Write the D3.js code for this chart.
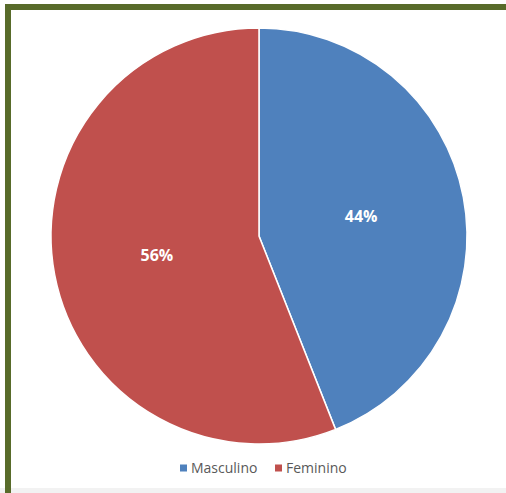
<!DOCTYPE html>
<meta charset="utf-8">
<script src="https://d3js.org/d3.v7.min.js"></script>
<style>
  body { margin: 0; background: #fff; }
  svg { display: block; }
</style>
<div id="chart"></div>
<script>

// data
var categories = ["Masculino", "Feminino"];
var values = [44, 56];
var colors = ["#4F81BD", "#C0504D"];

var width = 506, height = 493;

var svg = d3.select("#chart")
  .append("svg")
    .attr("width", width)
    .attr("height", height);

// light strip at the bottom
svg.append("rect")
  .attr("x", 0).attr("y", 488)
  .attr("width", width).attr("height", 5)
  .style("fill", "#f2f2f2");

// green frame (left and top only visible)
svg.append("rect")
  .attr("x", 5).attr("y", 4)
  .attr("width", 6).attr("height", 489)
  .style("fill", "#586B2A");
svg.append("rect")
  .attr("x", 5).attr("y", 4)
  .attr("width", 501).attr("height", 6)
  .style("fill", "#586B2A");

var cx = 259, cy = 236, r = 208;

var pie = d3.pie().sort(null).value(function(d) { return d; });
var arc = d3.arc().innerRadius(0).outerRadius(r);

var g = svg.append("g")
  .attr("transform", "translate(" + cx + "," + cy + ")");

var arcs = pie(values);

g.selectAll("path")
  .data(arcs)
  .enter()
  .append("path")
    .attr("d", arc)
    .style("fill", function(d, i) { return colors[i]; })
    .style("stroke", "#fff")
    .style("stroke-width", 1.5);

g.selectAll("text")
  .data(arcs)
  .enter()
  .append("text")
    .attr("transform", function(d) { return "translate(" + arc.centroid(d) + ")"; })
    .attr("text-anchor", "middle")
    .attr("dy", "0.35em")
    .style("font-family", "'Open Sans', sans-serif")
    .style("font-weight", "bold")
    .style("font-size", "16px")
    .style("fill", "#fff")
    .text(function(d) { return d.data + "%"; });

// legend
var legendX = [180, 275];
var legend = svg.selectAll(".legend")
  .data(categories)
  .enter()
  .append("g")
    .attr("class", "legend")
    .attr("transform", function(d, i) { return "translate(" + legendX[i] + ",468)"; });

legend.append("rect")
  .attr("x", 0).attr("y", -3.5)
  .attr("width", 7).attr("height", 7)
  .style("fill", function(d, i) { return colors[i]; });

legend.append("text")
  .attr("x", 11)
  .attr("dy", "0.35em")
  .style("font-family", "'Open Sans', sans-serif")
  .style("font-size", "14px")
  .style("fill", "#595959")
  .text(function(d) { return d; });
</script>
